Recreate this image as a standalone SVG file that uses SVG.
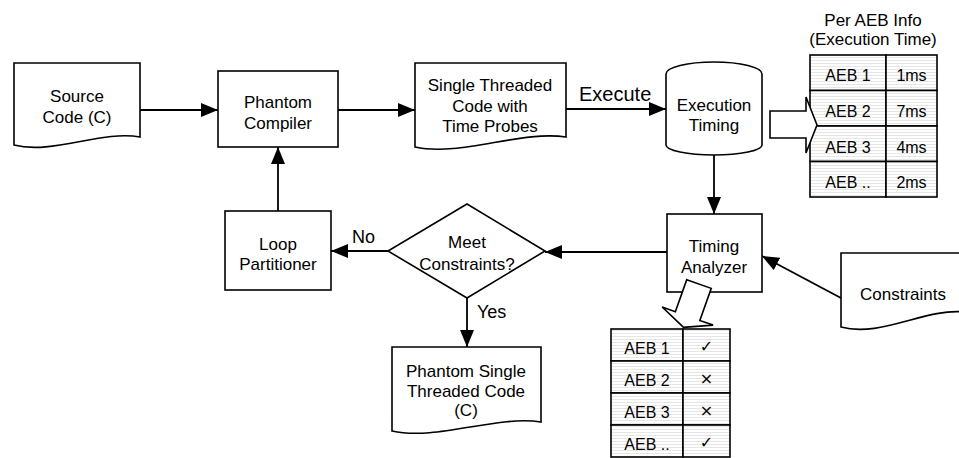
<svg xmlns="http://www.w3.org/2000/svg" width="959" height="458" viewBox="0 0 959 458">
<defs>
<marker id="ah" markerUnits="userSpaceOnUse" markerWidth="17" markerHeight="14" refX="17" refY="7" orient="auto">
<path d="M0,0 L17,7 L0,14 z" fill="#000"/>
</marker>
<pattern id="stripes" patternUnits="userSpaceOnUse" width="4" height="3">
<rect width="4" height="3" fill="#fff"/>
<rect y="0" width="4" height="1" fill="#e6e6e6"/>
</pattern>
</defs>
<style>
.shape{fill:#fff;stroke:#000;stroke-width:1.6}
.conn{fill:none;stroke:#000;stroke-width:1.8;marker-end:url(#ah)}
.t{font-family:"Liberation Sans",Arial,sans-serif;font-size:17px;fill:#000;text-anchor:middle}
.lbl{font-family:"Liberation Sans",Arial,sans-serif;fill:#000}
.cell{fill:url(#stripes);stroke:#000;stroke-width:1.6}
.tt{font-family:"Liberation Sans",Arial,sans-serif;font-size:16px;fill:#000;text-anchor:middle}
.sym{font-family:"DejaVu Sans",sans-serif;font-size:16px;fill:#000;text-anchor:middle}
</style>
<rect width="959" height="458" fill="#fff"/>

<g id="connectors">
<path class="conn" d="M140,110 H218"/>
<path class="conn" d="M338,110 H415"/>
<path class="conn" d="M566,109 H666"/>
<path class="conn" d="M714,155 V214"/>
<path class="conn" d="M667,252 H545"/>
<path class="conn" d="M388,251 H331"/>
<path class="conn" d="M278,211 V147"/>
<path class="conn" d="M467,298 V347"/>
<path class="conn" d="M841,298 L762,256"/>
<text class="lbl" x="579" y="101" font-size="20">Execute</text>
<text class="lbl" x="352" y="243" font-size="18">No</text>
<text class="lbl" x="477" y="318" font-size="18">Yes</text>
</g>

<g id="source-code">
<path class="shape" d="M14,63 H140 V137 C102,130 52,155 14,145 Z"/>
<text class="t" x="77" y="102">Source</text>
<text class="t" x="77" y="123">Code (C)</text>
</g>

<g id="phantom-compiler">
<rect class="shape" x="218" y="71" width="120" height="76"/>
<text class="t" x="278" y="108">Phantom</text>
<text class="t" x="278" y="129">Compiler</text>
</g>

<g id="single-threaded">
<path class="shape" d="M415,63 H566 V137 C521,130 460,157 415,147 Z"/>
<text class="t" x="490" y="91">Single Threaded</text>
<text class="t" x="490" y="111.5">Code with</text>
<text class="t" x="490" y="132">Time Probes</text>
</g>

<g id="execution-timing">
<path class="shape" d="M666,74 A48,12 0 0 1 762,74 V145 A48,10 0 0 1 666,145 Z"/>
<text class="t" x="714" y="110.5">Execution</text>
<text class="t" x="714" y="130.5">Timing</text>
</g>

<g id="per-aeb-info">
<text class="t" x="873" y="26">Per AEB Info</text>
<text class="t" x="873" y="45">(Execution Time)</text>
<rect class="cell" x="810" y="55" width="76" height="35.5"/>
<rect class="cell" x="886" y="55" width="51" height="35.5"/>
<rect class="cell" x="810" y="90.5" width="76" height="35.5"/>
<rect class="cell" x="886" y="90.5" width="51" height="35.5"/>
<rect class="cell" x="810" y="126" width="76" height="35.5"/>
<rect class="cell" x="886" y="126" width="51" height="35.5"/>
<rect class="cell" x="810" y="161.5" width="76" height="35.5"/>
<rect class="cell" x="886" y="161.5" width="51" height="35.5"/>
<text class="tt" x="848" y="81">AEB 1</text>
<text class="tt" x="911.5" y="81">1ms</text>
<text class="tt" x="848" y="117">AEB 2</text>
<text class="tt" x="911.5" y="117">7ms</text>
<text class="tt" x="848" y="152.5">AEB 3</text>
<text class="tt" x="911.5" y="152.5">4ms</text>
<text class="tt" x="848" y="188">AEB ..</text>
<text class="tt" x="911.5" y="188">2ms</text>
</g>

<g id="block-arrow-right">
<polygon class="shape" points="770,111 806,111 806,97 817,125 806,153 806,138 770,138"/>
</g>

<g id="timing-analyzer">
<rect class="shape" x="667" y="214" width="95" height="78"/>
<text class="t" x="714" y="251.5">Timing</text>
<text class="t" x="714" y="272.5">Analyzer</text>
</g>

<g id="meet-constraints">
<polygon class="shape" points="467,204 545,251 467,298 388,251"/>
<text class="t" x="467" y="247.5">Meet</text>
<text class="t" x="467" y="269.5">Constraints?</text>
</g>

<g id="loop-partitioner">
<rect class="shape" x="225" y="211" width="106" height="79"/>
<text class="t" x="278" y="249.5">Loop</text>
<text class="t" x="278" y="270">Partitioner</text>
</g>

<g id="phantom-single">
<path class="shape" d="M392,347 H541 V422 C496,415 437,441 392,431 Z"/>
<text class="t" x="466" y="376.5">Phantom Single</text>
<text class="t" x="466" y="396.5">Threaded Code</text>
<text class="t" x="466" y="416">(C)</text>
</g>

<g id="constraints">
<path class="shape" d="M841,253 H964 V312 C925,308 880,338 841,327 Z"/>
<text class="t" x="903" y="299.5">Constraints</text>
</g>

<g id="check-table">
<rect class="cell" x="611" y="329" width="72" height="32"/>
<rect class="cell" x="683" y="329" width="47" height="32"/>
<rect class="cell" x="611" y="361" width="72" height="32"/>
<rect class="cell" x="683" y="361" width="47" height="32"/>
<rect class="cell" x="611" y="393" width="72" height="32"/>
<rect class="cell" x="683" y="393" width="47" height="32"/>
<rect class="cell" x="611" y="425" width="72" height="32"/>
<rect class="cell" x="683" y="425" width="47" height="32"/>
<text class="tt" x="647" y="353.5">AEB 1</text>
<text class="sym" x="706.5" y="352">✓</text>
<text class="tt" x="647" y="385.5">AEB 2</text>
<text class="sym" x="706.5" y="384">×</text>
<text class="tt" x="647" y="417.5">AEB 3</text>
<text class="sym" x="706.5" y="416">×</text>
<text class="tt" x="647" y="449.5">AEB ..</text>
<text class="sym" x="706.5" y="448">✓</text>
</g>

<g id="block-arrow-down">
<polygon class="shape" transform="translate(699,284) rotate(19.6)" points="-13,0 13,0 13,34 27,34 0,46 -27,34 -13,34"/>
</g>
</svg>
